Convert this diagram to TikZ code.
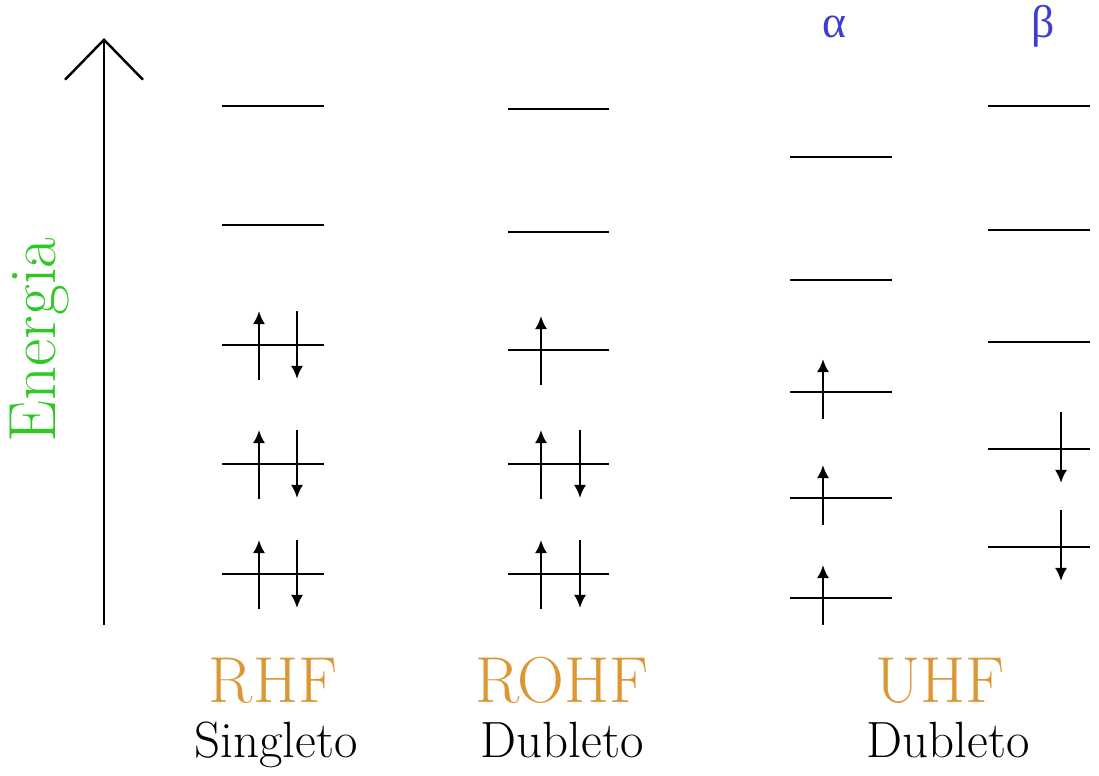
\documentclass[tikz,border=0pt]{standalone}
\usepackage{fontspec}
\usepackage{tikz}
\usetikzlibrary{arrows.meta}
\newfontfamily\greekfont{Liberation Serif}
\definecolor{energygreen}{RGB}{48,200,36}
\definecolor{methodorange}{RGB}{221,150,52}
\definecolor{spinblue}{RGB}{62,62,206}

\begin{document}
\begin{tikzpicture}[
  x=0.02cm, y=-0.02cm,
  level/.style={line width=1.4pt, black},
  spin/.style={line width=1.4pt, -{Latex[length=7.5pt, width=7pt]}},
  axis/.style={line width=1.4pt, -{Straight Barb[length=8mm, width=15.6mm]}},
  method/.style={anchor=base, font=\fontsize{37}{40}\selectfont, text=methodorange},
  mult/.style={anchor=base, font=\fontsize{29}{32}\selectfont},
  spinlabel/.style={anchor=base, font=\greekfont\fontsize{26}{28}\selectfont, text=spinblue}
]
\useasboundingbox (0,0) rectangle (1099,776);

% energy axis
\coordinate (axbot) at (104,625);
\coordinate (axtop) at (104,38);
\draw[axis] (axbot) -- (axtop);
\node[rotate=90, inner sep=0pt, text=energygreen, font=\fontsize{38}{42}\selectfont] (energia) at (40,340) {Energia};

% RHF
\foreach \y in {106,225}
  \draw[level] (222,\y) -- (324,\y);
\foreach \y in {345,464,574} {
  \draw[level] (222,\y) -- (324,\y);
  \draw[spin] (259,\y+35) -- (259,\y-34);
  \draw[spin] (297,\y-34) -- (297,\y+34);
}

% ROHF
\foreach \y in {109,232}
  \draw[level] (508,\y) -- (609,\y);
\draw[level] (508,350) -- (609,350);
\draw[spin] (541,385) -- (541,316);
\foreach \y in {464,574} {
  \draw[level] (508,\y) -- (609,\y);
  \draw[spin] (541,\y+35) -- (541,\y-34);
  \draw[spin] (580,\y-34) -- (580,\y+34);
}

% UHF alpha
\foreach \y in {157,280}
  \draw[level] (790,\y) -- (892,\y);
\foreach \y in {392,498,598} {
  \draw[level] (790,\y) -- (892,\y);
  \draw[spin] (823,\y+27) -- (823,\y-33);
}

% UHF beta
\foreach \y in {106,230,342}
  \draw[level] (988,\y) -- (1090,\y);
\foreach \y in {449,547} {
  \draw[level] (988,\y) -- (1090,\y);
  \draw[spin] (1061,\y-37) -- (1061,\y+34);
}

\node[spinlabel] (alpha) at (834,38) {α};
\node[spinlabel] (beta) at (1043,38) {β};

% labels
\node[method] (rhf) at (273,703) {RHF};
\node[method] (rohf) at (562,703) {ROHF};
\node[method] (uhf) at (940,703) {UHF};
\node[mult] (singleto) at (276,757) {Singleto};
\node[mult] (dubleto1) at (562,757) {Dubleto};
\node[mult] (dubleto2) at (948,757) {Dubleto};
\end{tikzpicture}
\end{document}
